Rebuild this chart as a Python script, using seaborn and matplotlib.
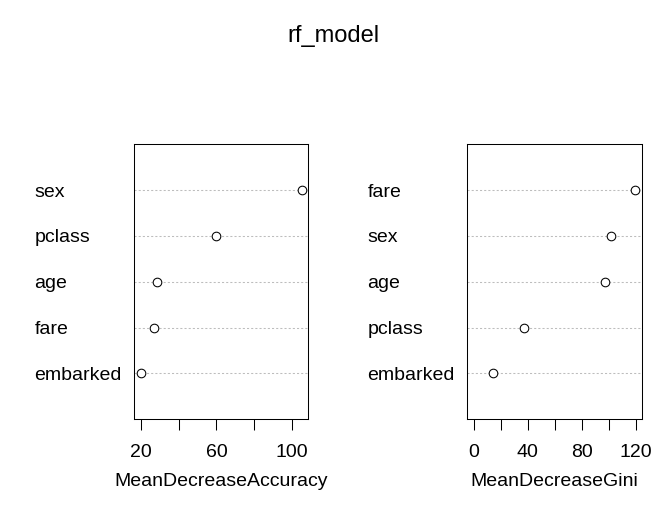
import matplotlib
matplotlib.use("Agg")
import matplotlib.pyplot as plt
import seaborn as sns
import pandas as pd

# variable importance (rf_model)
acc_vars = ["sex", "pclass", "age", "fare", "embarked"]
acc_vals = [105.3, 59.8, 28.3, 27.0, 19.8]
gini_vars = ["fare", "sex", "age", "pclass", "embarked"]
gini_vals = [119.8, 102.0, 97.4, 37.2, 14.6]

acc_ticks = [20, 40, 60, 80, 100]
acc_ticklabels = ["20", "", "60", "", "100"]
gini_ticks = [0, 20, 40, 60, 80, 100, 120]
gini_ticklabels = ["0", "", "40", "", "80", "", "120"]

sns.set_theme(style="ticks")
plt.rcParams["font.family"] = ["Liberation Sans", "DejaVu Sans"]
plt.rcParams["font.size"] = 14
plt.rcParams["text.color"] = "black"
plt.rcParams["axes.labelcolor"] = "black"

fig = plt.figure(figsize=(6.66, 5.16), dpi=100)
W, H = 666, 516
ax1 = fig.add_axes([134.3 / W, 1 - 419.3 / H, 174 / W, 275 / H])
ax2 = fig.add_axes([467.3 / W, 1 - 419.3 / H, 174.4 / W, 275 / H])


def dotpanel(ax, names, vals, ticks, ticklabels, xlabel, xmin=None):
    df = pd.DataFrame({"var": names, "imp": vals})
    sns.stripplot(data=df, x="imp", y="var", order=names, ax=ax, jitter=False,
                  marker="o", s=6.2, facecolor="white", edgecolor="black",
                  linewidth=0.75, zorder=3)
    lo = min(vals) if xmin is None else xmin
    hi = max(vals)
    pad = 0.04 * (hi - lo)
    ax.set_xlim(lo - pad, hi + pad)
    ax.set_ylim(len(names), -1)
    for i in range(len(names)):
        ax.axhline(i, color="#bdbdbd", lw=0.75, ls=(0, (2, 2)), zorder=1)
    ax.set_xticks(ticks)
    ax.set_xticklabels(ticklabels)
    ax.tick_params(axis="x", length=8, width=0.75, pad=10, colors="black",
                   labelsize=14)
    ax.tick_params(axis="y", length=0, pad=72, labelsize=14, colors="black")
    for t in ax.get_yticklabels():
        t.set_horizontalalignment("left")
    for s in ax.spines.values():
        s.set_visible(True)
        s.set_color("black")
        s.set_linewidth(0.75)
    ax.set_ylabel("")
    ax.set_xlabel(xlabel, fontsize=14, labelpad=8.5, color="black")
    ax.grid(False)


dotpanel(ax1, acc_vars, acc_vals, acc_ticks, acc_ticklabels, "MeanDecreaseAccuracy")
dotpanel(ax2, gini_vars, gini_vals, gini_ticks, gini_ticklabels, "MeanDecreaseGini", xmin=0)

fig.suptitle("rf_model", x=0.5, y=1 - 36 / H, va="center", fontsize=17, color="black")

fig.savefig("out.png", dpi=100, facecolor="white")
